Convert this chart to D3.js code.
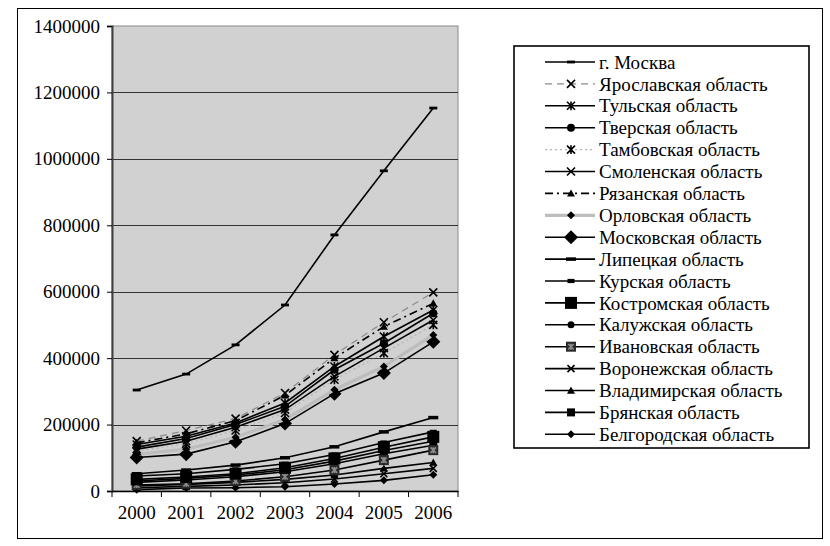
<!DOCTYPE html>
<html>
<head>
<meta charset="utf-8">
<script src="https://cdn.jsdelivr.net/npm/d3@7"></script>
<style>
  body { margin: 0; background: #fff; }
  text { font-family: "Liberation Serif", "Times New Roman", serif; fill: #000; }
</style>
</head>
<body>
<script>
let years = ["2000", "2001", "2002", "2003", "2004", "2005", "2006"];
let yTicks = [0, 200000, 400000, 600000, 800000, 1000000, 1200000, 1400000];

// values
let moskva       = [304000, 352000, 440000, 560000, 771000, 964000, 1153000];
let yaroslavl    = [150000, 182000, 218000, 295000, 410000, 508000, 598000];
let tula         = [140000, 165000, 205000, 265000, 375000, 465000, 545000];
let tver         = [132000, 158000, 200000, 255000, 365000, 445000, 535000];
let tambov       = [120000, 142000, 182000, 235000, 335000, 415000, 500000];
let smolensk     = [126000, 150000, 192000, 245000, 345000, 430000, 515000];
let ryazan       = [145000, 172000, 212000, 288000, 400000, 495000, 565000];
let orel         = [110000, 126000, 162000, 215000, 305000, 375000, 470000];
let moskObl      = [101000, 111000, 148000, 203000, 293000, 355000, 449000];
let lipetsk      = [52000, 63000, 78000, 100000, 133000, 178000, 221000];
let kursk        = [45000, 52000, 65000, 82000, 110000, 146000, 178000];
let kostroma     = [35000, 42000, 52000, 70000, 98000, 132000, 163000];
let kaluga       = [30000, 38000, 48000, 64000, 90000, 122000, 150000];
let ivanovo      = [18000, 22000, 30000, 43000, 63000, 93000, 123000];
let voronezh     = [10000, 14000, 18000, 25000, 36000, 52000, 68000];
let vladimir     = [15000, 20000, 26000, 35000, 48000, 68000, 86000];
let bryansk      = [26000, 33000, 43000, 58000, 82000, 112000, 138000];
let belgorod     = [4000, 9000, 10000, 13000, 21000, 32000, 49000];

let names = ["г. Москва", "Ярославская область", "Тульская область", "Тверская область",
  "Тамбовская область", "Смоленская область", "Рязанская область", "Орловская область",
  "Московская область", "Липецкая область", "Курская область", "Костромская область",
  "Калужская область", "Ивановская область", "Воронежская область", "Владимирская область",
  "Брянская область", "Белгородская область"];
let values = [moskva, yaroslavl, tula, tver, tambov, smolensk, ryazan, orel, moskObl,
  lipetsk, kursk, kostroma, kaluga, ivanovo, voronezh, vladimir, bryansk, belgorod];

// line / marker look per series, same order as names
let styles = [
  {stroke: "#000", width: 1.6, dash: null, marker: "dash", size: 4},
  {stroke: "#8c8c8c", width: 1.2, dash: "7,5", marker: "x", size: 4},
  {stroke: "#000", width: 1.6, dash: null, marker: "star", size: 4},
  {stroke: "#000", width: 1.6, dash: null, marker: "circle", size: 4},
  {stroke: "#b4b4b4", width: 1.2, dash: "2,3", marker: "star", size: 4},
  {stroke: "#000", width: 1.6, dash: null, marker: "x", size: 4},
  {stroke: "#000", width: 1.6, dash: "8,4,2,4", marker: "triangle", size: 4},
  {stroke: "#bdbdbd", width: 3.2, dash: null, marker: "diamond", size: 4},
  {stroke: "#000", width: 1.6, dash: null, marker: "diamond", size: 7},
  {stroke: "#000", width: 1.6, dash: null, marker: "dash", size: 5},
  {stroke: "#000", width: 1.6, dash: null, marker: "rect", size: 3.5},
  {stroke: "#000", width: 1.6, dash: null, marker: "square", size: 6},
  {stroke: "#000", width: 1.6, dash: null, marker: "circle", size: 3.5},
  {stroke: "#000", width: 1.6, dash: null, marker: "ivanovo", size: 5},
  {stroke: "#000", width: 1.6, dash: null, marker: "x", size: 3.5},
  {stroke: "#000", width: 1.6, dash: null, marker: "triangle", size: 4},
  {stroke: "#000", width: 1.6, dash: null, marker: "square", size: 4},
  {stroke: "#000", width: 1.6, dash: null, marker: "diamond", size: 4}
];

let margin = {left: 112, right: 372, top: 26, bottom: 55};
let width = 830, height = 546;

let svg = d3.select("body").append("svg").attr("width", width).attr("height", height);

// outer chart frame
svg.append("rect").attr("x", 17.5).attr("y", 8.5).attr("width", 805).attr("height", 530)
  .attr("fill", "#fff").attr("stroke", "#000").attr("stroke-width", 1);

let x = d3.scaleBand().domain(years).range([margin.left, width - margin.right]);
let y = d3.scaleLinear().domain([0, 1400000]).range([height - margin.bottom, margin.top]);

let plotW = x.range()[1] - x.range()[0];
let plotH = y(0) - y(1400000);

svg.append("rect").attr("x", margin.left).attr("y", y(1400000)).attr("width", plotW).attr("height", plotH)
  .attr("fill", "#d1d1d1").attr("stroke", "#8a8a8a").attr("stroke-width", 1);

// gridlines
svg.append("g").selectAll("line").data(yTicks.slice(1, -1)).join("line")
  .attr("x1", margin.left).attr("x2", margin.left + plotW)
  .attr("y1", (d) => Math.round(y(d)) + 0.5).attr("y2", (d) => Math.round(y(d)) + 0.5)
  .attr("stroke", "#333").attr("stroke-width", 1);

// y axis
let yAxis = d3.axisLeft(y).tickValues(yTicks).tickSize(5).tickPadding(7).tickFormat(d3.format("d"));
let yg = svg.append("g").attr("transform", `translate(${margin.left},0)`).call(yAxis);
yg.select(".domain").attr("stroke", "#404040").attr("stroke-width", 2);
yg.selectAll(".tick line").attr("stroke", "#000");
yg.selectAll("text").style("font-size", "19px").attr("fill", "#000");

// x axis: labels centred, ticks on category boundaries
let xAxis = d3.axisBottom(x).tickSize(0).tickPadding(15);
let xg = svg.append("g").attr("transform", `translate(0,${y(0)})`).call(xAxis);
xg.select(".domain").attr("stroke", "#000").attr("stroke-width", 1.5);
xg.selectAll("text").style("font-size", "19px").attr("fill", "#000");
xg.selectAll(".bnd").data(years.concat(["end"])).join("line").attr("class", "bnd")
  .attr("x1", (d) => d === "end" ? x.range()[1] : x(d))
  .attr("x2", (d) => d === "end" ? x.range()[1] : x(d))
  .attr("y1", 0).attr("y2", 6).attr("stroke", "#000").attr("stroke-width", 1);

function drawMarker(g, type, s) {
  if (type === "dash") {
    g.append("rect").attr("x", -s).attr("y", -s * 0.35).attr("width", 2 * s).attr("height", s * 0.7).attr("fill", "#000");
  } else if (type === "rect") {
    g.append("rect").attr("x", -s).attr("y", -s * 0.6).attr("width", 2 * s).attr("height", s * 1.2).attr("fill", "#000");
  } else if (type === "square") {
    g.append("rect").attr("x", -s).attr("y", -s).attr("width", 2 * s).attr("height", 2 * s).attr("fill", "#000");
  } else if (type === "ivanovo") {
    g.append("rect").attr("x", -s).attr("y", -s).attr("width", 2 * s).attr("height", 2 * s).attr("fill", "#2a2a2a");
    g.append("path").attr("d", `M${-s * 0.55},${-s * 0.55}L${s * 0.55},${s * 0.55}M${-s * 0.55},${s * 0.55}L${s * 0.55},${-s * 0.55}M0,${-s * 0.6}L0,${s * 0.6}`)
      .attr("stroke", "#8c8c8c").attr("stroke-width", 1.6);
  } else if (type === "circle") {
    g.append("circle").attr("r", s).attr("fill", "#000");
  } else if (type === "diamond") {
    g.append("path").attr("d", `M0,${-s}L${s},0L0,${s}L${-s},0Z`).attr("fill", "#000");
  } else if (type === "triangle") {
    g.append("path").attr("d", `M0,${-s}L${s},${s * 0.8}L${-s},${s * 0.8}Z`).attr("fill", "#000");
  } else if (type === "x") {
    g.append("path").attr("d", `M${-s},${-s}L${s},${s}M${-s},${s}L${s},${-s}`).attr("stroke", "#000").attr("stroke-width", 1.6);
  } else if (type === "star") {
    g.append("path").attr("d", `M${-s},${-s}L${s},${s}M${-s},${s}L${s},${-s}M0,${-s * 1.1}L0,${s * 1.1}`).attr("stroke", "#000").attr("stroke-width", 1.6);
  }
}

let line = d3.line()
  .x((d, i) => x(years[i]) + x.bandwidth() / 2)
  .y((d) => y(d));

let seriesG = svg.append("g");
// draw bottom of the legend first so the top entries end up on top
for (let k = names.length - 1; k >= 0; k--) {
  let st = styles[k];
  seriesG.append("path").attr("d", line(values[k]))
    .attr("fill", "none").attr("stroke", st.stroke).attr("stroke-width", st.width)
    .attr("stroke-dasharray", st.dash);
  values[k].forEach((v, i) => {
    let m = seriesG.append("g").attr("transform", `translate(${x(years[i]) + x.bandwidth() / 2},${y(v)})`);
    drawMarker(m, st.marker, st.size);
  });
}

// legend
let legend = svg.append("g");
legend.append("rect").attr("x", 514).attr("y", 46).attr("width", 295).attr("height", 402)
  .attr("fill", "#fff").attr("stroke", "#000").attr("stroke-width", 1.6);
names.forEach((n, k) => {
  let st = styles[k];
  let cy = 62 + k * 21.9;
  legend.append("line").attr("x1", 545).attr("x2", 595).attr("y1", cy).attr("y2", cy)
    .attr("stroke", st.stroke).attr("stroke-width", st.width).attr("stroke-dasharray", st.dash);
  let m = legend.append("g").attr("transform", `translate(571,${cy})`);
  drawMarker(m, st.marker, st.size);
  legend.append("text").attr("x", 599).attr("y", cy).attr("dy", "0.35em")
    .style("font-size", "19px").text(n);
});
</script>
</body>
</html>
